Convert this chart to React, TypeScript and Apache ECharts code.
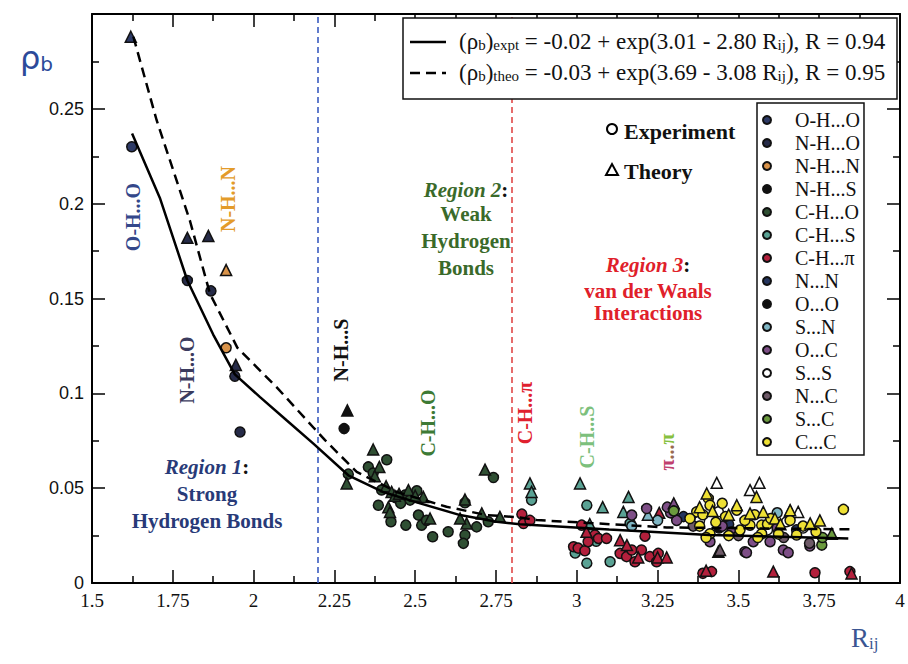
import React, { useEffect, useRef } from 'react';
import * as echarts from 'echarts';

// ---------- axis ticks ----------
const xTickLabels = ['1.5', '1.75', '2', '2.25', '2.5', '2.75', '3', '3.25', '3.5', '3.75', '4'];
const yTickLabels = ['0', '0.05', '0.1', '0.15', '0.2', '0.25', '0.3'];
const regionBounds = [2.2, 2.8];

// ---------- fitted curves ----------
const exptFit = [
  [1.624, 0.237], [1.71, 0.203], [1.795, 0.1595], [1.875, 0.131], [1.942, 0.110],
  [2.02, 0.098], [2.102, 0.0858], [2.185, 0.0735], [2.293, 0.0568], [2.40, 0.048],
  [2.515, 0.042], [2.639, 0.0358], [2.752, 0.0323], [2.824, 0.031], [3.1, 0.0282],
  [3.41, 0.0253], [3.84, 0.0235],
];
const theoFit = [
  [1.628, 0.288], [1.70, 0.244], [1.803, 0.191], [1.865, 0.1525], [1.95, 0.124],
  [2.071, 0.1033], [2.185, 0.082], [2.221, 0.0753], [2.319, 0.0586], [2.443, 0.048],
  [2.597, 0.0402], [2.721, 0.0358], [2.824, 0.0346], [2.876, 0.0332], [3.278, 0.0293],
  [3.845, 0.0283],
];

// ---------- scatter data: experiment (circles) / theory (triangles) ----------
const ohoExpt = [[1.623, 0.230]];
const ohoTheo = [[1.62, 0.288]];
const nhoExpt = [[1.795, 0.1595], [1.868, 0.154], [1.942, 0.109], [1.958, 0.0796]];
const nhoTheo = [[1.795, 0.182], [1.86, 0.183], [1.945, 0.115]];
const nhnExpt = [[1.915, 0.124]];
const nhnTheo = [[1.915, 0.165]];
const nhsExpt = [[2.28, 0.0814]];
const nhsTheo = [[2.29, 0.091]];
const choExpt = [
  [2.293, 0.0574], [2.355, 0.0612], [2.412, 0.065], [2.37, 0.058], [2.396, 0.049],
  [2.386, 0.041], [2.425, 0.0323], [2.471, 0.0305], [2.468, 0.0463], [2.484, 0.0437],
  [2.505, 0.0486], [2.51, 0.0358], [2.52, 0.0305], [2.535, 0.033], [2.554, 0.0244],
  [2.602, 0.027], [2.654, 0.0423], [2.654, 0.0253], [2.649, 0.0209], [2.69, 0.0296],
  [2.726, 0.0323], [2.742, 0.0556], [2.44, 0.045], [2.455, 0.042],
];
const choTheo = [
  [2.288, 0.0525], [2.37, 0.0704], [2.389, 0.0612], [2.375, 0.0563], [2.41, 0.051],
  [2.427, 0.048], [2.437, 0.046], [2.417, 0.040], [2.422, 0.0375], [2.479, 0.049],
  [2.525, 0.0454], [2.546, 0.034], [2.654, 0.044], [2.659, 0.0314], [2.639, 0.034],
  [2.706, 0.0367], [2.762, 0.0349], [2.716, 0.0598], [2.45, 0.047], [2.50, 0.046],
];
const chsExpt = [[2.86, 0.0437], [3.031, 0.041], [3.165, 0.0314], [3.031, 0.0104], [3.103, 0.0112], [2.995, 0.0158], [3.06, 0.022]];
const chsTheo = [[2.855, 0.0525], [2.86, 0.048], [3.01, 0.0525], [3.08, 0.040], [3.16, 0.0454], [3.144, 0.0375], [3.04, 0.031]];
const chpExpt = [
  [2.83, 0.0363], [2.835, 0.0314], [2.855, 0.033], [3.015, 0.0305], [3.056, 0.0253],
  [2.99, 0.0191], [3.004, 0.0184], [3.025, 0.017], [3.067, 0.0235], [3.092, 0.0235],
  [3.035, 0.0218], [3.134, 0.0156], [3.154, 0.0139], [3.17, 0.0174], [3.18, 0.0112],
  [3.2, 0.0174], [3.226, 0.0139], [3.247, 0.0112], [3.252, 0.0156], [3.211, 0.0247],
  [3.39, 0.0051], [3.417, 0.006], [3.737, 0.0054], [3.845, 0.006],
];
const chpTheo = [
  [3.134, 0.0226], [3.155, 0.020], [3.19, 0.0135], [3.25, 0.0135], [3.278, 0.0135],
  [3.255, 0.037], [3.608, 0.006], [3.40, 0.0065], [3.85, 0.005], [3.03, 0.027],
];
const nnExpt = [[3.33, 0.035], [3.47, 0.031], [3.68, 0.028]];
const nnTheo: number[][] = [];
const ooExpt = [[3.30, 0.039], [3.44, 0.029]];
const ooTheo = [[3.438, 0.0165]];
const snExpt = [[3.17, 0.030], [3.25, 0.033], [3.62, 0.037]];
const snTheo = [[3.22, 0.036], [3.66, 0.038]];
const ocExpt = [
  [3.17, 0.0358], [3.216, 0.0393], [3.3, 0.0384], [3.309, 0.033], [3.29, 0.037],
  [3.412, 0.0218], [3.52, 0.0165], [3.525, 0.016], [3.639, 0.0174], [3.654, 0.016],
  [3.721, 0.0195], [3.546, 0.0218], [3.598, 0.0218], [3.45, 0.030], [3.48, 0.027],
  [3.62, 0.029], [3.37, 0.035], [3.28, 0.040],
];
const ocTheo = [[3.30, 0.042]];
const ssExpt = [[3.438, 0.0375], [3.649, 0.0323], [3.38, 0.033], [3.59, 0.028], [3.70, 0.029]];
const ssTheo = [[3.433, 0.0528], [3.565, 0.0528], [3.536, 0.049], [3.685, 0.0375]];
const ncExpt = [[3.36, 0.030], [3.50, 0.025], [3.64, 0.024], [3.72, 0.021]];
const ncTheo = [[3.443, 0.0174]];
const scExpt = [[3.758, 0.020], [3.76, 0.024], [3.30, 0.038]];
const scTheo = [[3.789, 0.026]];
const ccExpt = [
  [3.407, 0.0446], [3.412, 0.041], [3.371, 0.0375], [3.39, 0.036], [3.495, 0.0384],
  [3.536, 0.0305], [3.572, 0.0305], [3.572, 0.026], [3.624, 0.0258], [3.412, 0.026],
  [3.505, 0.0279], [3.40, 0.024], [3.68, 0.0253], [3.825, 0.0388], [3.35, 0.034],
  [3.43, 0.032], [3.46, 0.035], [3.52, 0.033], [3.55, 0.036], [3.59, 0.031],
  [3.60, 0.034], [3.45, 0.042], [3.38, 0.030], [3.70, 0.030], [3.74, 0.027],
  [3.56, 0.024], [3.47, 0.025], [3.66, 0.033],
];
const ccTheo = [
  [3.402, 0.0472], [3.556, 0.0454], [3.495, 0.041], [3.536, 0.0367], [3.577, 0.0375],
  [3.613, 0.034], [3.66, 0.0384], [3.722, 0.0314], [3.752, 0.033], [3.42, 0.038],
  [3.38, 0.040], [3.47, 0.036], [3.63, 0.031],
];

const categories = [
  { name: 'O-H...O', color: '#2d3a66', expt: ohoExpt, theo: ohoTheo },
  { name: 'N-H...O', color: '#262b48', expt: nhoExpt, theo: nhoTheo },
  { name: 'N-H...N', color: '#d9934a', expt: nhnExpt, theo: nhnTheo },
  { name: 'N-H...S', color: '#111111', expt: nhsExpt, theo: nhsTheo },
  { name: 'C-H...O', color: '#2f4f33', expt: choExpt, theo: choTheo },
  { name: 'C-H...S', color: '#5aa294', expt: chsExpt, theo: chsTheo },
  { name: 'C-H...π', color: '#b3203c', expt: chpExpt, theo: chpTheo },
  { name: 'N...N', color: '#25355e', expt: nnExpt, theo: nnTheo },
  { name: 'O...O', color: '#0d0d0d', expt: ooExpt, theo: ooTheo },
  { name: 'S...N', color: '#7fb6c4', expt: snExpt, theo: snTheo },
  { name: 'O...C', color: '#7d4e86', expt: ocExpt, theo: ocTheo },
  { name: 'S...S', color: '#ffffff', expt: ssExpt, theo: ssTheo },
  { name: 'N...C', color: '#6e5a68', expt: ncExpt, theo: ncTheo },
  { name: 'S...C', color: '#6b9a3e', expt: scExpt, theo: scTheo },
  { name: 'C...C', color: '#eee034', expt: ccExpt, theo: ccTheo },
];

const SERIF = '"Liberation Serif", "Times New Roman", serif';
const SANS = '"Liberation Sans", Arial, sans-serif';

function eqRich() {
  return {
    t: { fontSize: 23, fontFamily: SERIF, fill: '#111', lineHeight: 23, verticalAlign: 'top' },
    s: { fontSize: 15, fontFamily: SERIF, fill: '#111', lineHeight: 15, verticalAlign: 'bottom', padding: [12, 0, 0, 0] },
  };
}

function rotLabel(text: string, x: number, y: number, color: string) {
  return {
    type: 'text', x, y, rotation: Math.PI / 2, z: 50,
    style: { text, fontSize: 20, fontWeight: 'bold', fontFamily: SERIF, fill: color, align: 'center', verticalAlign: 'middle' },
  };
}

function centerText(text: string, x: number, y: number, color: string) {
  return {
    type: 'text', x, y, z: 50,
    style: {
      text, fontSize: 21, fontWeight: 'bold', fontFamily: SERIF,
      fill: color, align: 'center', verticalAlign: 'middle',
    },
  };
}

function regionHead(label: string, x: number, y: number, color: string) {
  return {
    type: 'text', x, y, z: 50,
    style: {
      text: `{i|${label}}{c|:}`, align: 'center', verticalAlign: 'middle',
      rich: {
        i: { fontSize: 21, fontWeight: 'bold', fontStyle: 'italic', fontFamily: SERIF, fill: color },
        c: { fontSize: 21, fontWeight: 'bold', fontFamily: SERIF, fill: '#111' },
      },
    },
  };
}

export default function App() {
  const ref = useRef<HTMLDivElement>(null);
  useEffect(() => {
    const chart = echarts.init(ref.current!, null, { renderer: 'svg' });

    const scatterSeries = categories.map((c) => ({
      type: 'scatter',
      name: c.name,
      symbol: 'circle',
      symbolSize: 10,
      itemStyle: { color: c.color, borderColor: '#111', borderWidth: 1.5, opacity: 1 },
      emphasis: { disabled: true },
      data: [
        ...c.expt.map((p) => ({ value: p })),
        ...c.theo.map((p) => ({ value: p, symbol: 'triangle', symbolSize: 11 })),
      ],
      z: 3,
    }));

    const tickAxisCommon = {
      axisLine: { show: true, onZero: false, lineStyle: { color: '#000', width: 2 } },
      splitLine: { show: false },
    };
    const ticks = {
      axisTick: { inside: true, length: 13, lineStyle: { color: '#000', width: 1.5 } },
      minorTick: { show: true, splitNumber: 2, length: 7, lineStyle: { color: '#000', width: 1.5 } },
      minorSplitLine: { show: false },
    };

    const option: any = {
      animation: false,
      backgroundColor: '#fff',
      grid: { left: 92, right: 8, top: 14, bottom: 81, containLabel: false },
      xAxis: [
        {
          type: 'value', min: 1.5, max: 4, interval: 0.25, position: 'bottom',
          ...tickAxisCommon, ...ticks,
          axisLabel: {
            formatter: (v: number) => xTickLabels[Math.round((v - 1.5) / 0.25)] ?? '',
            fontFamily: SERIF, fontSize: 19, color: '#111', margin: 8,
          },
        },
        {
          type: 'value', min: 1.5, max: 4, interval: 0.25, position: 'top',
          ...tickAxisCommon, ...ticks,
          axisLabel: { show: false },
        },
      ],
      yAxis: [
        {
          type: 'value', min: 0, max: 0.3, interval: 0.05, position: 'left',
          ...tickAxisCommon, ...ticks,
          axisLabel: {
            formatter: (v: number) => yTickLabels[Math.round(v / 0.05)] ?? '',
            showMaxLabel: false,
            fontFamily: SANS, fontSize: 18, color: '#111', margin: 8,
          },
        },
        {
          type: 'value', min: 0, max: 0.3, interval: 0.05, position: 'right',
          ...tickAxisCommon, ...ticks,
          axisLabel: { show: false },
        },
      ],
      legend: {
        data: categories.map((c) => c.name),
        orient: 'vertical',
        left: 757,
        top: 103,
        icon: 'circle',
        itemWidth: 46,
        itemHeight: 8,
        itemGap: 3,
        padding: [7, 4, 3, 5],
        backgroundColor: '#fff',
        borderColor: '#111',
        borderWidth: 1.5,
        selectedMode: false,
        textStyle: { fontFamily: SERIF, fontSize: 20, color: '#111', lineHeight: 20 },
        z: 20,
      },
      series: [
        ...scatterSeries,
        {
          type: 'line', name: 'expt', data: exptFit, showSymbol: false, symbol: 'none', smooth: false,
          lineStyle: { color: '#000', width: 2.5, type: 'solid' }, z: 5, silent: true,
        },
        {
          type: 'line', name: 'theo', data: theoFit, showSymbol: false, symbol: 'none', smooth: false,
          lineStyle: { color: '#000', width: 2.5, type: [10, 6] }, z: 5, silent: true,
        },
        {
          type: 'line', name: 'bounds', data: [], silent: true,
          markLine: {
            symbol: 'none', silent: true, label: { show: false },
            lineStyle: { type: [6, 4], width: 1.6 },
            data: [
              { xAxis: regionBounds[0], lineStyle: { color: '#3a5bc0' } },
              { xAxis: regionBounds[1], lineStyle: { color: '#e04848' } },
            ],
          },
          z: 2,
        },
      ],
      graphic: [
        // equation box
        { type: 'rect', z: 40, shape: { x: 403, y: 18, width: 494, height: 81 }, style: { fill: '#fff', stroke: '#111', lineWidth: 1.5 } },
        { type: 'line', z: 41, shape: { x1: 410, y1: 42, x2: 446, y2: 42 }, style: { stroke: '#000', lineWidth: 2.5 } },
        { type: 'line', z: 41, shape: { x1: 410, y1: 73, x2: 446, y2: 73 }, style: { stroke: '#000', lineWidth: 2.5, lineDash: [10, 6] } },
        {
          type: 'text', z: 41, x: 459, y: 41,
          style: {
            text: '{t|(ρ}{s|b}{t|)}{s|expt}{t| = -0.02 + exp(3.01 - 2.80 R}{s|ij}{t|), R = 0.94}',
            rich: eqRich(), verticalAlign: 'middle', align: 'left',
          },
        },
        {
          type: 'text', z: 41, x: 459, y: 72,
          style: {
            text: '{t|(ρ}{s|b}{t|)}{s|theo}{t| = -0.03 + exp(3.69 - 3.08 R}{s|ij}{t|), R = 0.95}',
            rich: eqRich(), verticalAlign: 'middle', align: 'left',
          },
        },
        // Experiment / Theory key
        { type: 'circle', z: 41, shape: { cx: 612, cy: 129, r: 5 }, style: { fill: '#fff', stroke: '#000', lineWidth: 2 } },
        { type: 'text', z: 41, x: 624, y: 131, style: { text: 'Experiment', fontSize: 22, fontWeight: 'bold', fontFamily: SERIF, fill: '#111', verticalAlign: 'middle' } },
        { type: 'polygon', z: 41, shape: { points: [[606, 175], [618, 175], [612, 164]] }, style: { fill: '#fff', stroke: '#000', lineWidth: 2 } },
        { type: 'text', z: 41, x: 624, y: 171, style: { text: 'Theory', fontSize: 22, fontWeight: 'bold', fontFamily: SERIF, fill: '#111', verticalAlign: 'middle' } },
        // axis names
        {
          type: 'text', z: 41, x: 20, y: 58,
          style: {
            text: '{r|ρ}{s|b}', verticalAlign: 'middle',
            rich: {
              r: { fontSize: 32, fontFamily: '"DejaVu Sans", sans-serif', fill: '#2c4a9a', lineHeight: 32, verticalAlign: 'top' },
              s: { fontSize: 20, fontFamily: '"DejaVu Sans", sans-serif', fill: '#2c4a9a', lineHeight: 20, verticalAlign: 'bottom', padding: [16, 0, 0, 0] },
            },
          },
        },
        {
          type: 'text', z: 41, x: 851, y: 638,
          style: {
            text: '{r|R}{s|ij}', verticalAlign: 'middle',
            rich: {
              r: { fontSize: 27, fontFamily: SERIF, fill: '#3a5592', lineHeight: 27, verticalAlign: 'top' },
              s: { fontSize: 17, fontFamily: SERIF, fill: '#3a5592', lineHeight: 17, verticalAlign: 'bottom', padding: [16, 0, 0, 0] },
            },
          },
        },
        // rotated labels
        rotLabel('O-H...O', 133, 217, '#34478a'),
        rotLabel('N-H...N', 228, 199, '#e39b2a'),
        rotLabel('N-H...O', 187, 370, '#3b3b5e'),
        rotLabel('N-H...S', 341, 350, '#111111'),
        rotLabel('C-H...O', 428, 423, '#3d7a35'),
        rotLabel('C-H...π', 525, 413, '#e0202e'),
        rotLabel('C-H...S', 587, 437, '#7cc07c'),
        {
          type: 'text', x: 667, y: 452, rotation: Math.PI / 2, z: 50,
          style: {
            text: '{a|π}{b|...}{c|π}', align: 'center', verticalAlign: 'middle',
            rich: {
              a: { fontSize: 20, fontWeight: 'bold', fontFamily: SERIF, fill: '#c0406e' },
              b: { fontSize: 20, fontWeight: 'bold', fontFamily: SERIF, fill: '#9a6a50' },
              c: { fontSize: 20, fontWeight: 'bold', fontFamily: SERIF, fill: '#86c040' },
            },
          },
        },
        // region texts
        regionHead('Region 1', 207, 467, '#283a78'),
        centerText('Strong', 207, 494, '#283a78'),
        centerText('Hydrogen Bonds', 207, 521, '#283a78'),
        regionHead('Region 2', 466, 190, '#3a6a2a'),
        centerText('Weak', 466, 214, '#3a6a2a'),
        centerText('Hydrogen', 466, 241, '#3a6a2a'),
        centerText('Bonds', 466, 268, '#3a6a2a'),
        regionHead('Region 3', 648, 265, '#e0202a'),
        centerText('van der Waals', 648, 291, '#e0202a'),
        centerText('Interactions', 648, 313, '#e0202a'),
      ],
    };

    chart.setOption(option);
    return () => chart.dispose();
  }, []);

  return (
    <div
      ref={ref}
      style={{ position: 'fixed', left: 0, top: 0, width: 908, height: 664, background: '#fff' }}
    />
  );
}
